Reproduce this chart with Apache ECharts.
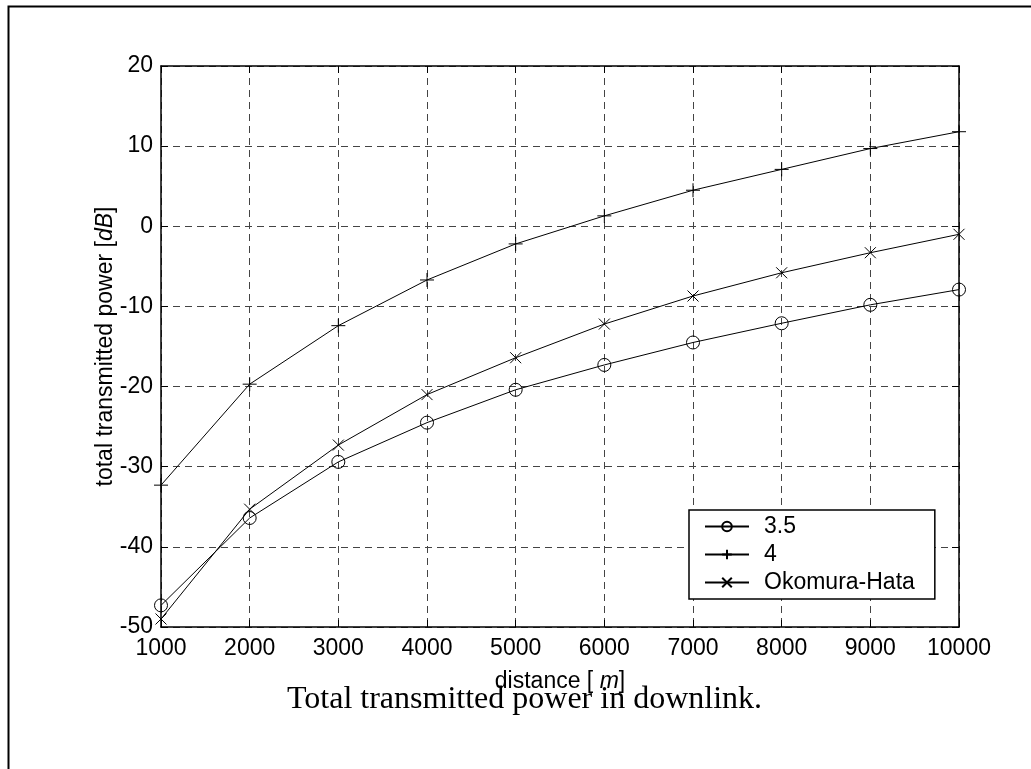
<!DOCTYPE html>
<html><head><meta charset="utf-8">
<script src="https://cdn.jsdelivr.net/npm/echarts@6/dist/echarts.min.js"></script>
<style>html,body{margin:0;padding:0;background:#fff}#c{width:1031px;height:769px}</style>
</head><body><div id="c"></div>
<script>
// ---- data ----
const distances = [1000, 2000, 3000, 4000, 5000, 6000, 7000, 8000, 9000, 10000];
const exp35 = [-47.3, -36.4, -29.4, -24.5, -20.4, -17.3, -14.5, -12.1, -9.8, -7.9];
const exp4 = [-32.3, -19.7, -12.4, -6.7, -2.2, 1.3, 4.5, 7.1, 9.7, 11.8];
const okumuraHata = [-49.0, -35.3, -27.3, -21.0, -16.4, -12.2, -8.7, -5.8, -3.3, -1.0];
const seriesNames = ['3.5', '4', 'Okomura-Hata'];
const xTickMin = 1000, xTickMax = 10000, xTickStep = 1000;
const yTickMin = -50, yTickMax = 20, yTickStep = 10;
const captionText = 'Total transmitted power in downlink.';

const SANS = 'Liberation Sans, Arial, sans-serif';
const SERIF = 'Liberation Serif, Times New Roman, serif';

const pairs = (ys) => distances.map((d, i) => [d, ys[i]]);
const circlePath = 'path://M10,5A5,5,0,1,1,0,5A5,5,0,1,1,10,5Z';
const plusPath = 'path://M0,5L10,5M5,0L5,10';
const crossPath = 'path://M0,0L10,10M0,10L10,0';

const chart = echarts.init(document.getElementById('c'), null, {renderer: 'canvas'});

const lineBase = {
  type: 'line',
  clip: false,
  lineStyle: {color: '#000', width: 1},
  itemStyle: {color: 'rgba(0,0,0,0)', borderColor: '#000', borderWidth: 1},
  emphasis: {disabled: true},
  animation: false
};

const option = {
  backgroundColor: '#fff',
  animation: false,
  title: {
    text: captionText,
    left: 287, top: 684, padding: 0,
    textStyle: {fontFamily: SERIF, fontSize: 32, fontWeight: 'normal', color: '#000'}
  },
  graphic: [{
    type: 'rect', left: 6, top: 4, silent: true, z: -10,
    shape: {width: 1060, height: 800},
    style: {fill: 'none', stroke: '#000', lineWidth: 2}
  }],
  grid: {left: 161, top: 66, right: 72, bottom: 142, containLabel: false},
  legend: {
    orient: 'vertical',
    left: 689, top: 510,
    padding: [5, 20, 5, 15],
    itemWidth: 44, itemHeight: 12, itemGap: 5,
    backgroundColor: '#fff',
    borderColor: '#000', borderWidth: 1.5, borderRadius: 0,
    textStyle: {fontFamily: SANS, fontSize: 23, color: '#000', lineHeight: 23, padding: [0, 0, 0, 10]},
    data: seriesNames
  },
  xAxis: [{
    type: 'value', min: xTickMin, max: xTickMax, interval: xTickStep,
    position: 'bottom',
    name: 'distance [ {i|m}]',
    nameLocation: 'middle', nameGap: 43, nameMoveOverlap: false,
    nameTextStyle: {fontFamily: SANS, fontSize: 23, color: '#000', rich: {i: {fontFamily: SANS, fontSize: 23, fontStyle: 'italic', color: '#000'}}},
    axisLine: {show: true, onZero: false, lineStyle: {color: '#000', width: 1.5}},
    axisTick: {show: true, inside: true, length: 7, lineStyle: {color: '#000'}},
    axisLabel: {fontFamily: SANS, fontSize: 23, color: '#000', margin: 10, showMinLabel: true, showMaxLabel: true,
      formatter: (v) => String(v)},
    splitLine: {show: true, lineStyle: {color: '#444', width: 1, type: [7, 5]}}
  }, {
    type: 'value', min: xTickMin, max: xTickMax, interval: xTickStep,
    position: 'top',
    axisLine: {show: true, onZero: false, lineStyle: {color: '#000', width: 1.5}},
    axisTick: {show: true, inside: true, length: 7, lineStyle: {color: '#000'}},
    axisLabel: {show: false},
    splitLine: {show: false}
  }],
  yAxis: [{
    type: 'value', min: yTickMin, max: yTickMax, interval: yTickStep,
    position: 'left',
    name: 'total transmitted power [{i|dB}]',
    nameLocation: 'middle', nameGap: 44, nameRotate: 90, nameMoveOverlap: false,
    nameTextStyle: {fontFamily: SANS, fontSize: 23, color: '#000', rich: {i: {fontFamily: SANS, fontSize: 23, fontStyle: 'italic', color: '#000'}}},
    axisLine: {show: true, onZero: false, lineStyle: {color: '#000', width: 1.5}},
    axisTick: {show: true, inside: true, length: 7, lineStyle: {color: '#000'}},
    axisLabel: {fontFamily: SANS, fontSize: 23, color: '#000', margin: 8, padding: [5, 0, 0, 0], showMinLabel: true, showMaxLabel: true},
    splitLine: {show: true, lineStyle: {color: '#444', width: 1, type: [7, 5]}}
  }, {
    type: 'value', min: yTickMin, max: yTickMax, interval: yTickStep,
    position: 'right',
    axisLine: {show: true, onZero: false, lineStyle: {color: '#000', width: 1.5}},
    axisTick: {show: true, inside: true, length: 7, lineStyle: {color: '#000'}},
    axisLabel: {show: false},
    splitLine: {show: false}
  }],
  series: [
    Object.assign({}, lineBase, {
      name: seriesNames[0], data: pairs(exp35),
      symbol: circlePath, symbolSize: 13
    }),
    Object.assign({}, lineBase, {
      name: seriesNames[1], data: pairs(exp4),
      symbol: plusPath, symbolSize: 14
    }),
    Object.assign({}, lineBase, {
      name: seriesNames[2], data: pairs(okumuraHata),
      symbol: crossPath, symbolSize: 11
    })
  ]
};
chart.setOption(option);
</script>
</body></html>
